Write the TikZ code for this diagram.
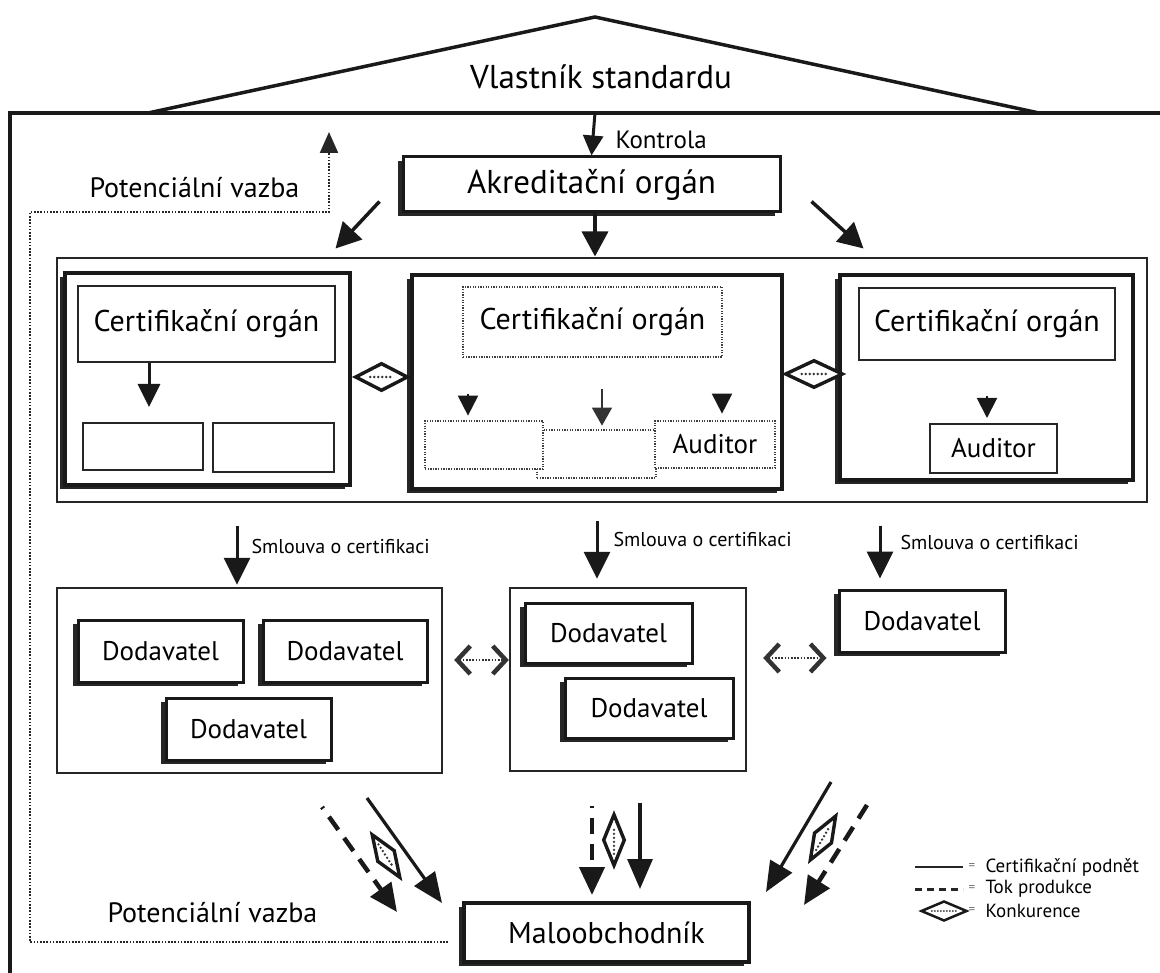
\documentclass[tikz,border=0pt]{standalone}
\usepackage{fontspec}
\setmainfont{PT Sans}
\usetikzlibrary{arrows.meta,shadows,shapes.geometric,calc}

\newcommand\szHead{\fontsize{33}{38}\selectfont}
\newcommand\szBox{\fontsize{30}{34}\selectfont}
\newcommand\szSup{\fontsize{27}{31}\selectfont}
\newcommand\szLab{\fontsize{28}{32}\selectfont}
\newcommand\szKon{\fontsize{25}{29}\selectfont}
\newcommand\szSm{\fontsize{20}{23}\selectfont}
\newcommand\szLeg{\fontsize{19}{22}\selectfont}
\newcommand\szEq{\fontsize{13}{15}\selectfont}

\begin{document}
\begin{tikzpicture}[x=1pt,y=-1pt,
  line join=miter,
  every node/.style={text=black},
  plainbox/.style={draw=black!85, line width=2pt, fill=white, inner sep=0pt},
  dotbox/.style={draw=black!75, line width=1.3pt, dash pattern=on 1.3pt off 1.3pt, fill=white, inner sep=0pt},
  heavybox/.style={draw=black!90, line width=#1, fill=white, inner sep=0pt,
     drop shadow={shadow xshift=-5pt, shadow yshift=-4pt, opacity=1, fill=black!85}},
  heavybox/.default=3pt,
  groupbox/.style={draw=black!85, line width=2.4pt, inner sep=0pt},
  konk/.style={diamond, draw=black!90, line width=3.4pt, fill=white, inner sep=0pt},
  konkdots/.style={line width=2.6pt, line cap=round, dash pattern=on 0pt off 4pt, black!80},
  potdot/.style={line width=2.2pt, dash pattern=on 1.6pt off 1.6pt, black!85},
  arrK/.style={line width=3pt, black!90, -{Triangle[length=20pt,width=20pt]}},
  arrB/.style={line width=3.5pt, black!90, -{Triangle[length=25pt,width=26pt]}},
  arrM/.style={line width=3pt, black!90, -{Triangle[length=23pt,width=22pt]}},
  arrS/.style={line width=3pt, black!90, -{Triangle[length=27pt,width=26pt]}},
  tri/.style={line width=2pt, black!90, -{Triangle[length=20pt,width=20pt]}},
  thinarr/.style={line width=1.2pt, black!80, -{Triangle[length=18pt,width=20pt]}},
  flowsolid/.style={line width=3.2pt, black!90, -{Triangle[length=30pt,width=25pt]}},
  flowdash/.style={line width=4.5pt, black!90, dash pattern=on 16pt off 10pt, -{Triangle[length=28pt,width=25pt]}},
  opena/.style={line width=2pt, black!80, dash pattern=on 1.6pt off 1.6pt,
     {Straight Barb[length=13pt,width=28pt,line width=4.5pt]}-{Straight Barb[length=13pt,width=28pt,line width=4.5pt]}}
]
\useasboundingbox (0,0) rectangle (1160,973);

% roof of the standard owner and the outer frame
\draw[line width=3.5pt, black!90] (148,113) -- (595,17) -- (1039,113);
\draw[line width=3.5pt, black!90] (10,973) -- (10,113) -- (1160,113);
\node[font=\szHead] (owner) at (601,77) {Vlastník standardu};
\coordinate (ctrl) at (595,113);

% accreditation body
\node[heavybox=3pt, minimum width=377pt, minimum height=55pt, font=\szHead] (akr) at (591.5,184.5) {Akreditační orgán};
\draw[arrK] (ctrl) -- (akr.north);
\node[font=\szKon, anchor=west] (ctrllab) at (612,140) {Kontrola};

\draw[arrB] ([xshift=-22pt,yshift=12pt]akr.south west) -- ++(-44,47);
\draw[arrB] ([xshift=3.5pt]akr.south) -- ++(0,43);
\draw[arrB] ([xshift=30pt,yshift=12pt]akr.south east) -- ++(52,47);

% frame of the certification bodies
\node[groupbox, minimum width=1090pt, minimum height=244pt] (cframe) at (602,380) {};

% left certification body
\node[heavybox=4pt, minimum width=285pt, minimum height=212pt] (cb1) at (207.5,379) {};
\node[plainbox, minimum width=257pt, minimum height=76pt, font=\szBox] (co1) at (206.5,324) {Certifikační orgán};
\node[plainbox, minimum width=120pt, minimum height=47pt] (e1) at (143,446.5) {};
\node[plainbox, minimum width=121pt, minimum height=49pt] (e2) at (273.5,447.5) {};
\draw[arrM] ([xshift=-57.5pt]co1.south) -- ++(0,44);

% middle certification body
\node[heavybox=4pt, minimum width=370pt, minimum height=214pt] (cb2) at (597,382) {};
\node[dotbox, minimum width=259pt, minimum height=70pt, font=\szBox] (co2) at (592.5,322) {Certifikační orgán};
\node[dotbox, minimum width=119pt, minimum height=48pt] (b2) at (596.5,454) {};
\node[dotbox, minimum width=118pt, minimum height=48pt] (b1) at (484,445) {};
\node[dotbox, minimum width=120pt, minimum height=47pt, font=\szSup] (b3) at (715,444.5) {Auditor};
\draw[tri] ($(co2.south)+(-124.5,36)$) -- ++(0,22);
\draw[thinarr] ($(co2.south)+(9.5,31)$) -- ++(0,37);
\draw[tri] ($(co2.south)+(129.5,36)$) -- ++(0,20);

% right certification body
\node[heavybox=4pt, minimum width=293pt, minimum height=205pt] (cb3) at (986.5,377.5) {};
\node[plainbox, minimum width=256pt, minimum height=72pt, font=\szBox] (co3) at (987,324) {Certifikační orgán};
\node[plainbox, minimum width=127pt, minimum height=49pt, font=\szSup] (aud2) at (993.5,448.5) {Auditor};
\draw[tri] ($(co3.south)+(0,35)$) -- ++(0,22);

% competition between certification bodies
\node[konk, minimum width=53pt, minimum height=28pt] (k1) at (381.5,377) {};
\draw[konkdots] ($(k1.west)!0.3!(k1.east)$) -- ($(k1.west)!0.72!(k1.east)$);
\node[konk, minimum width=58pt, minimum height=28pt] (k2) at (814,374) {};
\draw[konkdots] ($(k2.west)!0.3!(k2.east)$) -- ($(k2.west)!0.72!(k2.east)$);

% suppliers
\node[groupbox, minimum width=385pt, minimum height=185pt] (lsup) at (249.5,680.5) {};
\node[heavybox=3pt, minimum width=165pt, minimum height=62pt, font=\szSup] (d1) at (160.5,651) {Dodavatel};
\node[heavybox=3pt, minimum width=164pt, minimum height=62pt, font=\szSup] (d2) at (345,651) {Dodavatel};
\node[heavybox=3pt, minimum width=165pt, minimum height=62pt, font=\szSup] (d3) at (248.5,729) {Dodavatel};

\node[groupbox, minimum width=236pt, minimum height=183pt] (msup) at (628,679.5) {};
\node[heavybox=3pt, minimum width=167pt, minimum height=60pt, font=\szSup] (dA) at (608.5,633) {Dodavatel};
\node[heavybox=3pt, minimum width=168pt, minimum height=60pt, font=\szSup] (dB) at (649,708) {Dodavatel};

\node[heavybox=3pt, minimum width=166pt, minimum height=62pt, font=\szSup] (rd) at (922,621) {Dodavatel};

\draw[opena] ($(lsup.east)+(11,-20.5)$) -- ($(msup.west)+(0,-19.5)$);
\draw[opena] ($(msup.east)+(16,-21.5)$) -- ($(rd.west)+(-11,37)$);

% certification contracts
\draw[arrS] ([xshift=-12.5pt,yshift=61pt]lsup.north) -- ([xshift=-12.5pt,yshift=2pt]lsup.north);
\node[font=\szSm, anchor=west] (sm1) at (248,546) {Smlouva o certifikaci};
\draw[arrS] ([xshift=-31pt,yshift=66pt]msup.north) -- ([xshift=-31pt,yshift=8pt]msup.north);
\node[font=\szSm, anchor=west] (sm2) at (610,540) {Smlouva o certifikaci};
\draw[arrS] ([xshift=-42pt,yshift=63pt]rd.north) -- ([xshift=-42pt,yshift=10pt]rd.north);
\node[font=\szSm, anchor=west] (sm3) at (897,542) {Smlouva o certifikaci};

% retailer
\node[heavybox=3.5pt, minimum width=285pt, minimum height=59pt, font=\szBox] (mal) at (606.5,932.5) {Maloobchodník};

% flows towards the retailer
\coordinate (lsA) at (367,798);  \coordinate (lsB) at (442,903);
\coordinate (ldA) at (322,807);  \coordinate (ldB) at (397,912);
\coordinate (msA) at (640,803);  \coordinate (msB) at (640,889);
\coordinate (mdA) at (592,806);  \coordinate (mdB) at (592,895);
\coordinate (rsA) at (831,782);  \coordinate (rsB) at (766,892);
\coordinate (rdA) at (867,805);  \coordinate (rdB) at (804,905);
\draw[flowsolid] (lsA) -- (lsB);
\draw[flowdash, dash phase=14pt] (ldA) -- (ldB);
\draw[flowsolid] (msA) -- (msB);
\draw[flowdash, dash phase=14pt] (mdA) -- (mdB);
\draw[flowsolid] (rsA) -- (rsB);
\draw[flowdash] (rdA) -- (rdB);

\node[konk, minimum width=52pt, minimum height=21pt, rotate=-57] (k3) at (386,856) {};
\draw[konkdots] ($(k3.west)!0.25!(k3.east)$) -- ($(k3.west)!0.75!(k3.east)$);
\node[konk, minimum width=52pt, minimum height=22pt, rotate=90] (k4) at (614,840) {};
\draw[konkdots] ($(k4.west)!0.25!(k4.east)$) -- ($(k4.west)!0.75!(k4.east)$);
\node[konk, minimum width=52pt, minimum height=21pt, rotate=60] (k5) at (823,838) {};
\draw[konkdots] ($(k5.west)!0.25!(k5.east)$) -- ($(k5.west)!0.75!(k5.east)$);

% potential link
\coordinate (pvEnd) at (448,942);
\draw[potdot, -{Triangle[length=21pt,width=18pt]}] (pvEnd) -- (30,942) -- (30,212) -- (329,212) -- (329,132);
\node[font=\szLab, anchor=west] (pv1) at (86,188) {Potenciální vazba};
\node[font=\szLab, anchor=west] (pv2) at (104,913) {Potenciální vazba};

% legend
\coordinate (lg1a) at (915,867); \coordinate (lg1b) at (963,867);
\coordinate (lg2a) at (915,889); \coordinate (lg2b) at (963,889);
\draw[line width=2.5pt, black!85] (lg1a) -- (lg1b);
\draw[line width=3pt, black!85, dash pattern=on 7pt off 5pt] (lg2a) -- (lg2b);
\node[konk, line width=2.5pt, minimum width=46pt, minimum height=20pt] (lg3) at (944,911) {};
\draw[konkdots, line width=1.8pt, dash pattern=on 0pt off 3pt] ($(lg3.west)!0.25!(lg3.east)$) -- ($(lg3.west)!0.75!(lg3.east)$);
\node[font=\szEq, text=black!55] (eq1) at (972,867) {=};
\node[font=\szEq, text=black!55] (eq2) at (972,889) {=};
\node[font=\szEq, text=black!55] (eq3) at (972,911) {=};
\node[font=\szLeg, anchor=west] (lgt1) at (982,867) {Certifikační podnět};
\node[font=\szLeg, anchor=west] (lgt2) at (982,889) {Tok produkce};
\node[font=\szLeg, anchor=west] (lgt3) at (982,911) {Konkurence};
\end{tikzpicture}
\end{document}
